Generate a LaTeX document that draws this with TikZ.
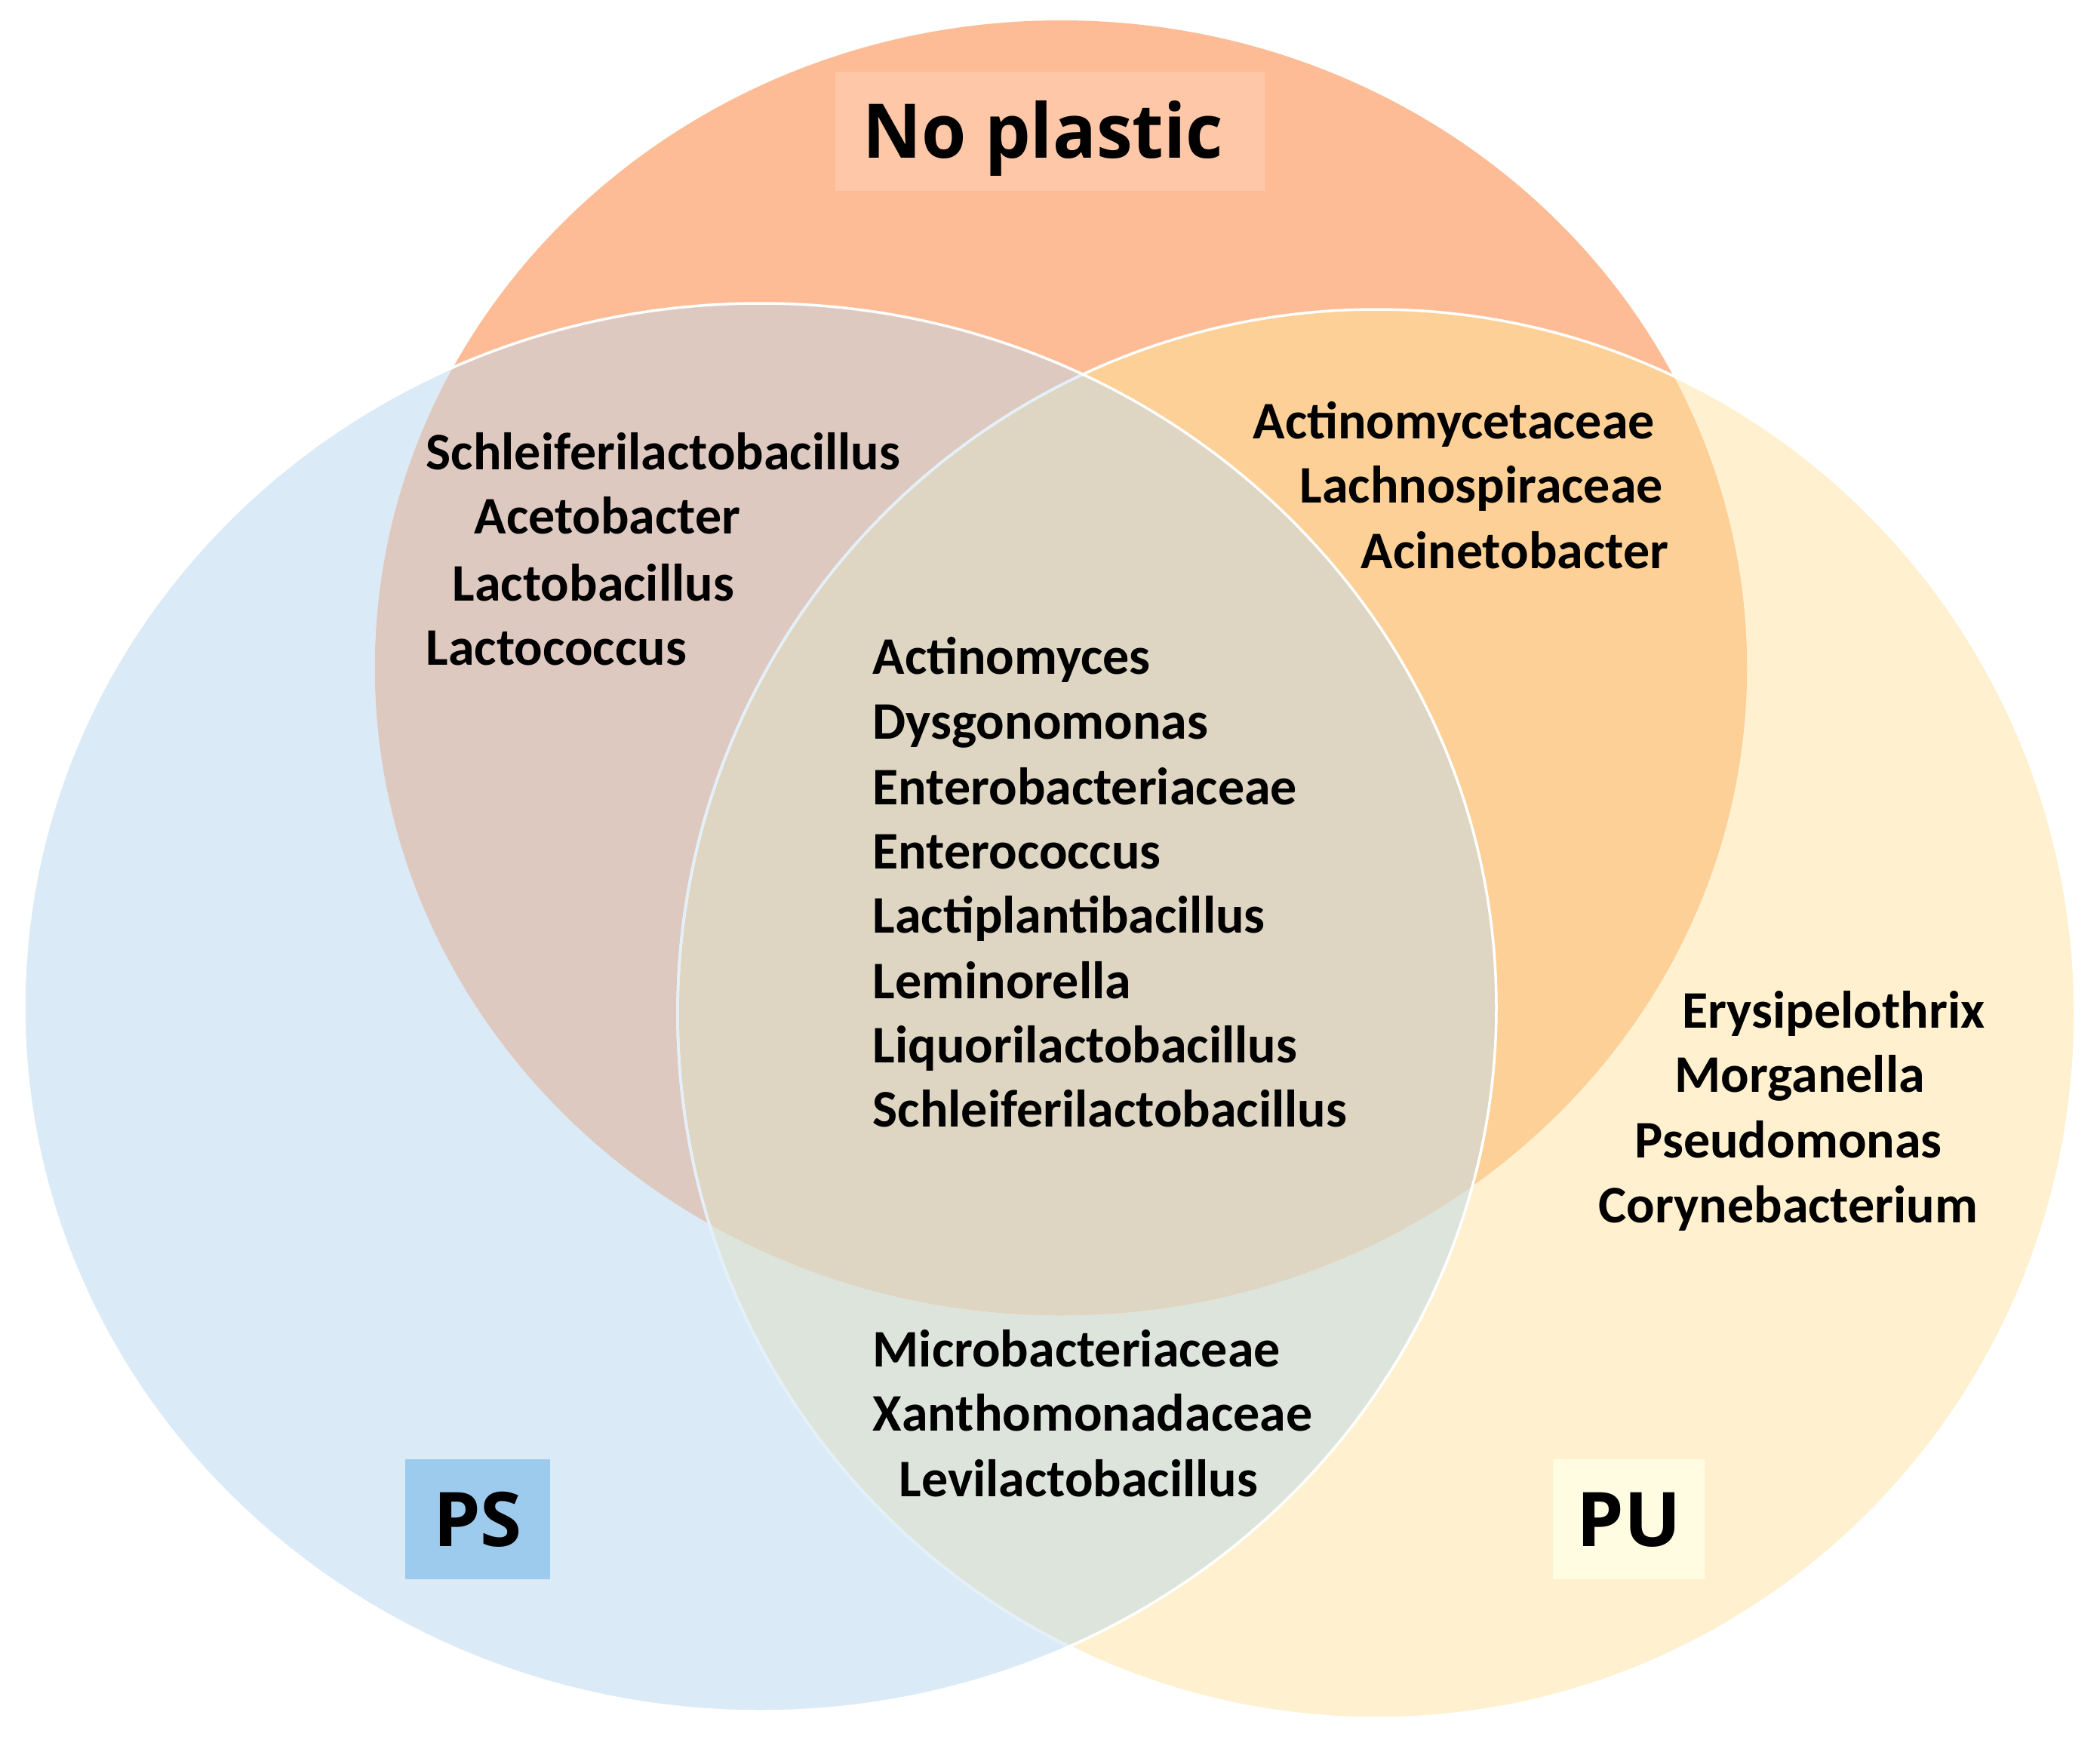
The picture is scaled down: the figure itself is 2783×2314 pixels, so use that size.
\documentclass[tikz,border=0pt]{standalone}
\usepackage{fontspec}
\newfontfamily\carl{Carlito}
\newfontfamily\opsans{Open Sans}
\newfontfamily\opsansn{Open Sans}[FakeStretch=0.96]
\definecolor{cT}{HTML}{FDBC95}
\definecolor{cL}{HTML}{DAEAF7}
\definecolor{cR}{HTML}{FFF1CF}
\definecolor{cLT}{HTML}{DEC9C0}
\definecolor{cRT}{HTML}{FDD097}
\definecolor{cLR}{HTML}{DCE4DC}
\definecolor{cLRT}{HTML}{DED5C2}
\definecolor{cTbox}{HTML}{FEC7A8}
\definecolor{cPSbox}{HTML}{9CCBEE}
\definecolor{cPUbox}{HTML}{FFFCE2}
\definecolor{cRline}{HTML}{E3EFF9}
\def\Lpath{(1007.5,1335) ellipse [x radius=975.5, y radius=933]}
\def\Rpath{(1824,1343.5) ellipse [x radius=926, y radius=933.5]}
\def\Tpath{(1406,885) ellipse [x radius=909, y radius=858]}
\begin{document}
\begin{tikzpicture}[x=0.01cm,y=-0.01cm,
  sp/.style={font=\carl\bfseries\fontsize{19.9}{24}\selectfont, anchor=base west, inner sep=0pt},
  labbox/.style={font=\opsans\bfseries\fontsize{28.4}{34}\selectfont, inner sep=0pt, text height=20.3pt, text depth=0pt, anchor=center},
  outl/.style={line width=0.035cm}]
\useasboundingbox (0,0) rectangle (2783,2314);
\fill[white] (0,0) rectangle (2783,2314);
% base fills
\fill[cL] \Lpath;
\fill[cR] \Rpath;
\fill[cT] \Tpath;
\begin{scope}
  \clip \Lpath;
  \fill[cLR] \Rpath;
  \fill[cLT] \Tpath;
\end{scope}
\begin{scope}
  \clip \Rpath;
  \fill[cRT] \Tpath;
  \clip \Lpath;
  \fill[cLRT] \Tpath;
\end{scope}
% outlines
\draw[white, outl] \Rpath;
\begin{scope}
  \clip \Lpath;
  \draw[cRline, outl] \Rpath;
\end{scope}
\draw[white, outl] \Lpath;
% set labels
\node[labbox, fill=cTbox, minimum width=5.69cm, minimum height=1.58cm] (npbox) at (1391.5,174) {};
\node[labbox, font=\opsansn\bfseries\fontsize{28.4}{34}\selectfont] (np) at (1382,174) {No plastic};
\node[labbox, fill=cPSbox, minimum width=1.92cm, minimum height=1.59cm] (ps) at (633,2013.5) {PS};
\node[labbox, fill=cPUbox, minimum width=2.01cm, minimum height=1.59cm] (pu) at (2158.5,2013.5) {PU};
% No plastic & PS
\node[sp] (a1) at (564,622) {Schleiferilactobacillus};
\node[sp] (a2) at (628,707) {Acetobacter};
\node[sp] (a3) at (599,796) {Lactobacillus};
\node[sp] (a4) at (564,881) {Lactococcus};
% No plastic & PU
\node[sp] (b1) at (1660,581) {Actinomycetaceae};
\node[sp] (b2) at (1722,666) {Lachnospiraceae};
\node[sp] (b3) at (1803,753) {Acinetobacter};
% all three
\node[sp] (c1) at (1156,893) {Actinomyces};
\node[sp] (c2) at (1156,979) {Dysgonomonas};
\node[sp] (c3) at (1156,1066) {Enterobacteriaceae};
\node[sp] (c4) at (1156,1151) {Enterococcus};
\node[sp] (c5) at (1156,1236) {Lactiplantibacillus};
\node[sp] (c6) at (1156,1323) {Leminorella};
\node[sp] (c7) at (1156,1408) {Liquorilactobacillus};
\node[sp] (c8) at (1156,1493) {Schleiferilactobacillus};
% PS & PU
\node[sp] (d1) at (1156,1811) {Microbacteriaceae};
\node[sp] (d2) at (1156,1896) {Xanthomonadaceae};
\node[sp] (d3) at (1191,1983) {Levilactobacillus};
% PU only
\node[sp] (e1) at (2229,1362) {Erysipelothrix};
\node[sp] (e2) at (2219,1447) {Morganella};
\node[sp] (e3) at (2166,1534) {Pseudomonas};
\node[sp] (e4) at (2118,1620) {Corynebacterium};
\end{tikzpicture}
\end{document}
